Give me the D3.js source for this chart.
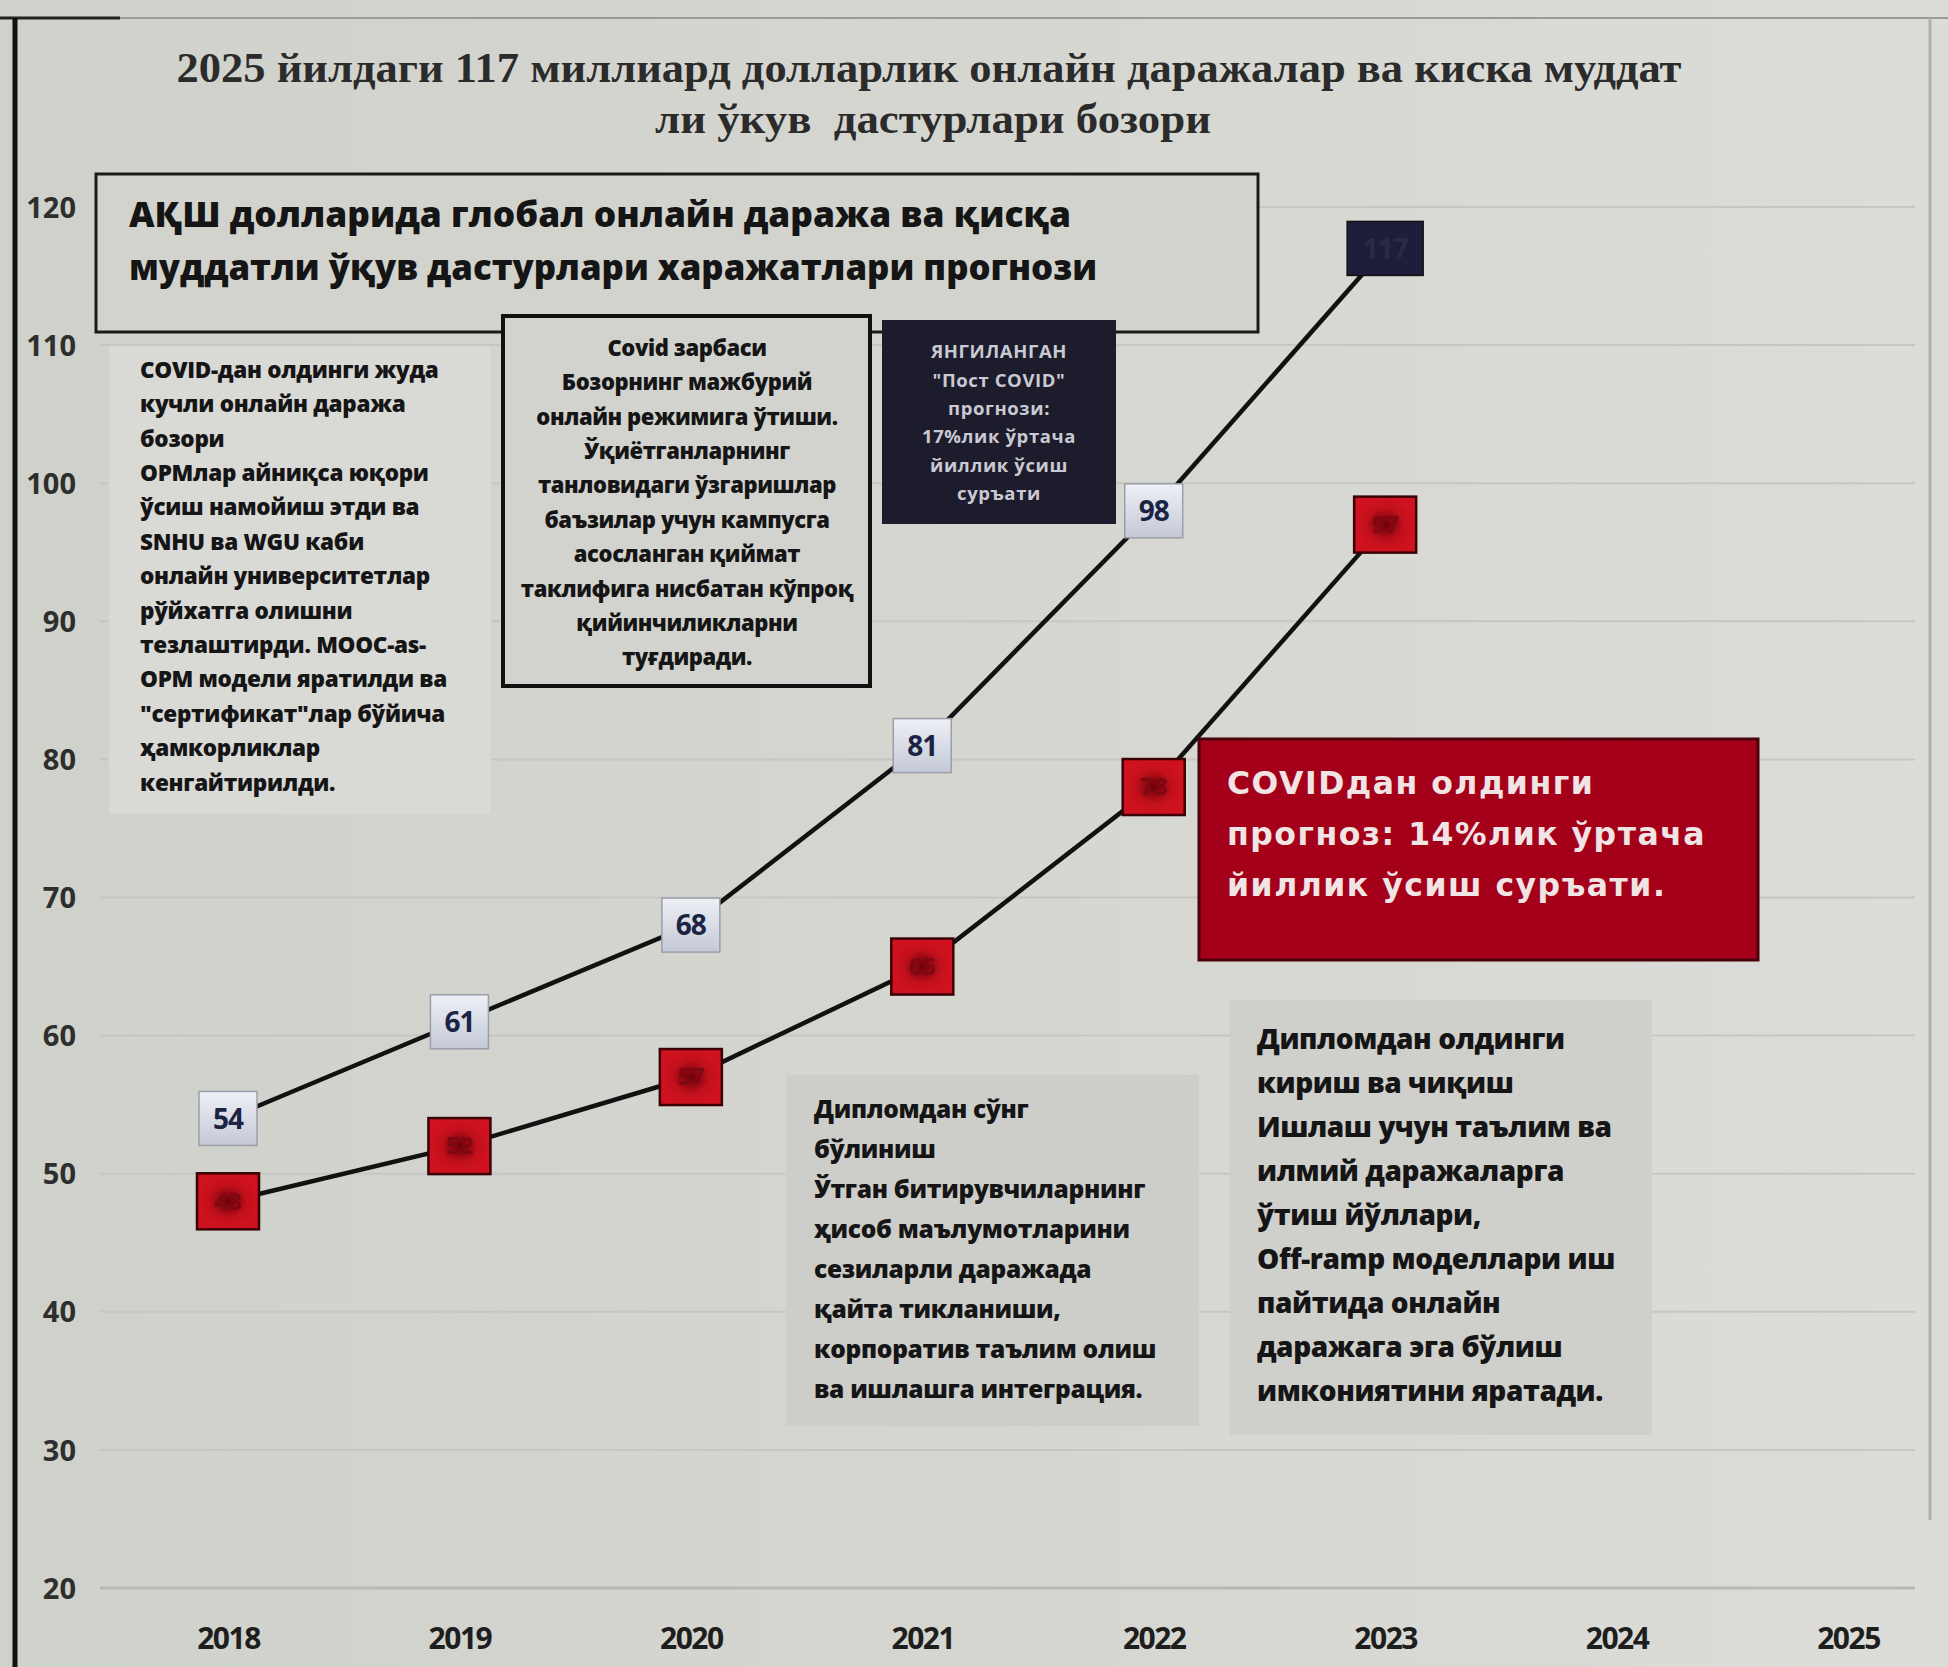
<!DOCTYPE html>
<html><head><meta charset="utf-8">
<script src="https://cdn.jsdelivr.net/npm/d3@7"></script>
<style>html,body{margin:0;padding:0;background:#d4d4cf;}svg{display:block;}</style>
</head><body>
<svg id="chart" width="1948" height="1667"></svg>
<script>
// ---------- DATA ----------
const years = ["2018","2019","2020","2021","2022","2023","2024","2025"];
const postCovidYears = ["2018","2019","2020","2021","2022","2023"];
const postCovidValues = [54, 61, 68, 81, 98, 117];
const preCovidYears = ["2018","2019","2020","2021","2022","2023"];
const preCovidValues = [48, 52, 57, 65, 78, 97];
const yTicks = [20, 30, 40, 50, 60, 70, 80, 90, 100, 110, 120];

const titleLines = ["2025 йилдаги 117 миллиард долларлик онлайн даражалар ва киска муддат", "ли ўкув  дастурлари бозори"];
const subtitleLines = ["АҚШ долларида глобал онлайн даража ва қисқа", "муддатли ўқув дастурлари харажатлари прогнози"];
const noteBeforeCovid = ["COVID-дан олдинги жуда", "кучли онлайн даража", "бозори", "ОРМлар айниқса юқори", "ўсиш намойиш этди ва", "SNHU ва WGU каби", "онлайн университетлар", "рўйхатга олишни", "тезлаштирди. МООС-as-", "ОРМ модели яратилди ва", "\"сертификат\"лар бўйича", "ҳамкорликлар", "кенгайтирилди."];
const noteShock = ["Covid зарбаси", "Бозорнинг мажбурий", "онлайн режимига ўтиши.", "Ўқиётганларнинг", "танловидаги ўзгаришлар", "баъзилар учун кампусга", "асосланган қиймат", "таклифига нисбатан кўпроқ", "қийинчиликларни", "туғдиради."];
const noteUpdated = ["ЯНГИЛАНГАН", "\"Пост COVID\"", "прогнози:", "17%лик ўртача", "йиллик ўсиш", "суръати"];
const notePreForecast = ["COVIDдан олдинги", "прогноз: 14%лик ўртача", "йиллик ўсиш суръати."];
const noteAfterDiploma = ["Дипломдан сўнг", "бўлиниш", "Ўтган битирувчиларнинг", "ҳисоб маълумотларини", "сезиларли даражада", "қайта тикланиши,", "корпоратив таълим олиш", "ва ишлашга интеграция."];
const noteBeforeDiploma = ["Дипломдан олдинги", "кириш ва чиқиш", "Ишлаш учун таълим ва", "илмий даражаларга", "ўтиш йўллари,", "Off-ramp моделлари иш", "пайтида онлайн", "даражага эга бўлиш", "имкониятини яратади."];

// ---------- SETUP ----------
const svg = d3.select("#chart");
const W = 1948, H = 1667;
const defs = svg.append("defs");
const bg = defs.append("linearGradient").attr("id","bg").attr("x1","0").attr("x2","1").attr("y1","0").attr("y2","0");
bg.append("stop").attr("offset","0").attr("stop-color","#cfd1cb");
bg.append("stop").attr("offset","0.5").attr("stop-color","#d6d6d1");
bg.append("stop").attr("offset","1").attr("stop-color","#dcdcd8");
const lb = defs.append("linearGradient").attr("id","lbox").attr("x1","0").attr("x2","0").attr("y1","0").attr("y2","1");
lb.append("stop").attr("offset","0").attr("stop-color","#eef0f6");
lb.append("stop").attr("offset","1").attr("stop-color","#c4c9d6");
const rb = defs.append("radialGradient").attr("id","rbox");
rb.append("stop").attr("offset","0").attr("stop-color","#6a0008");
rb.append("stop").attr("offset","0.6").attr("stop-color","#c3101c");
rb.append("stop").attr("offset","1").attr("stop-color","#d0121f");

svg.append("rect").attr("width",W).attr("height",H).attr("fill","url(#bg)");
// frame
svg.append("line").attr("x1",0).attr("x2",W).attr("y1",18).attr("y2",18).attr("stroke","#9a9a96").attr("stroke-width",2);
svg.append("line").attr("x1",0).attr("x2",120).attr("y1",18).attr("y2",18).attr("stroke","#222").attr("stroke-width",3);
svg.append("line").attr("x1",1930).attr("x2",1930).attr("y1",18).attr("y2",1520).attr("stroke","#b0b0ac").attr("stroke-width",3);
svg.append("line").attr("x1",15).attr("x2",15).attr("y1",18).attr("y2",H).attr("stroke","#111").attr("stroke-width",5);

const x = d3.scalePoint().domain(years).range([228, 1848]);
const y = d3.scaleLinear().domain([20, 120]).range([1588, 207]);

// gridlines
svg.append("g").selectAll("line").data(yTicks).join("line")
  .attr("x1",100).attr("x2",1915).attr("y1",d=>y(d)).attr("y2",d=>y(d))
  .attr("stroke",d=>d===20?"#b8b8b4":"#c6c6c2").attr("stroke-width",d=>d===20?3:2);

// y axis
const yAxis = d3.axisLeft(y).tickValues(yTicks).tickSize(0).tickPadding(0);
const gy = svg.append("g").attr("transform","translate(76,0)").call(yAxis);
gy.select(".domain").remove();
gy.selectAll("text").attr("font-family","Open Sans").attr("font-weight",700).attr("font-size",29).attr("fill","#2e2e2e").attr("dy","0.35em");

// x axis
const xAxis = d3.axisBottom(x).tickSize(0).tickPadding(0);
const gx = svg.append("g").attr("transform","translate(0,1638)").call(xAxis);
gx.select(".domain").remove();
gx.selectAll("text").attr("font-family","Open Sans").attr("font-weight",700).attr("font-size",30).attr("fill","#1e1e1e").attr("dy","0.35em")
  .style("letter-spacing","-1.5px");

// title
const tg = svg.append("g").attr("font-family","Liberation Serif").attr("font-weight",700).attr("fill","#2b2b2b");
tg.append("text").attr("x",929).attr("y",82).attr("text-anchor","middle").attr("font-size",42)
  .attr("textLength",1505).attr("lengthAdjust","spacingAndGlyphs").text(titleLines[0]);
tg.append("text").attr("x",933).attr("y",133).attr("text-anchor","middle").attr("font-size",42)
  .attr("textLength",556).attr("lengthAdjust","spacingAndGlyphs").attr("xml:space","preserve").text(titleLines[1]);

// subtitle box
svg.append("rect").attr("x",96).attr("y",174).attr("width",1162).attr("height",158)
  .attr("fill","#d3d3ce").attr("stroke","#1a1a1a").attr("stroke-width",3);
const st = svg.append("g").attr("font-family","Open Sans").attr("font-weight",800).attr("fill","#151515").attr("font-size",36);
st.append("text").attr("x",129).attr("y",227).attr("textLength",942).attr("lengthAdjust","spacingAndGlyphs").text(subtitleLines[0]);
st.append("text").attr("x",129).attr("y",280).attr("textLength",968).attr("lengthAdjust","spacingAndGlyphs").text(subtitleLines[1]);

// helper for text blocks
function block(lines, opt){
  const g = svg.append("g").attr("font-family",opt.font||"Open Sans").attr("font-weight",opt.weight||800)
    .attr("font-size",opt.size).attr("fill",opt.color||"#151515");
  g.selectAll("text").data(lines).join("text")
    .attr("x",opt.x).attr("y",(d,i)=>opt.y + i*opt.lh).attr("dy","0.35em")
    .attr("text-anchor",opt.anchor||"start")
    .style("letter-spacing",opt.ls||"normal")
    .text(d=>d);
  return g;
}

// left note
svg.append("rect").attr("x",109).attr("y",346).attr("width",382).attr("height",468).attr("fill","#d9d9d5");
block(noteBeforeCovid,{x:140,y:370,lh:34.4,size:22.5,ls:"-0.3px"});

// covid shock box
svg.append("rect").attr("x",503).attr("y",316).attr("width",367).attr("height",370)
  .attr("fill","#d2d2ce").attr("stroke","#111").attr("stroke-width",4);
block(noteShock,{x:687,y:348,lh:34.4,size:22,anchor:"middle",ls:"-0.4px"});

// navy updated box
svg.append("rect").attr("x",882).attr("y",320).attr("width",234).attr("height",204).attr("fill","#1d1c2c");
block(noteUpdated,{x:999,y:352,lh:28.3,size:18.5,anchor:"middle",color:"#c9c9d3",weight:700,ls:"0.6px"});

// after-diploma note
svg.append("rect").attr("x",786).attr("y",1075).attr("width",413).attr("height",351).attr("fill","#cdcdc9");
block(noteAfterDiploma,{x:814,y:1109,lh:40,size:24.5,ls:"-0.3px"});

// before-diploma note
svg.append("rect").attr("x",1230).attr("y",1000).attr("width",422).attr("height",435).attr("fill","#cfcfcc");
block(noteBeforeDiploma,{x:1257,y:1039,lh:44,size:28,ls:"-0.4px"});

// lines
const line = d3.line().x(d=>x(d.year)).y(d=>y(d.value));
const post = postCovidYears.map((yr,i)=>({year:yr,value:postCovidValues[i]}));
const pre = preCovidYears.map((yr,i)=>({year:yr,value:preCovidValues[i]}));
svg.append("path").datum(pre).attr("d",line).attr("fill","none").attr("stroke","#111").attr("stroke-width",4.5);
svg.append("path").datum(post).attr("d",line).attr("fill","none").attr("stroke","#111").attr("stroke-width",4.5);

// pre-covid forecast red box
svg.append("rect").attr("x",1199).attr("y",739).attr("width",559).attr("height",221)
  .attr("fill","#a5001a").attr("stroke","#4a0008").attr("stroke-width",3);
block(notePreForecast,{x:1227,y:783,lh:51,size:31.5,font:"DejaVu Sans",weight:700,color:"#f1e4e4",ls:"1.5px"});

// pre-covid markers
const rm = svg.append("g").selectAll("g").data(pre).join("g")
  .attr("transform",d=>`translate(${x(d.year)},${y(d.value)})`);
rm.append("rect").attr("x",-31).attr("y",-28).attr("width",62).attr("height",56)
  .attr("fill","url(#rbox)").attr("stroke","#3a0006").attr("stroke-width",2.5);
rm.append("text").attr("text-anchor","middle").attr("dy","0.35em").attr("font-family","Open Sans").attr("font-weight",700)
  .attr("font-size",24).attr("fill","#7d0812").text(d=>d.value);

// post-covid markers
const pm = svg.append("g").selectAll("g").data(post).join("g")
  .attr("transform",d=>`translate(${x(d.year)},${y(d.value)})`);
pm.append("rect").attr("x",d=>d.value===117?-38:-29).attr("y",-27).attr("width",d=>d.value===117?76:58).attr("height",54)
  .attr("fill",d=>d.value===117?"#1e1d3a":"url(#lbox)").attr("stroke",d=>d.value===117?"#111":"#9a9ea8").attr("stroke-width",1.5);
pm.append("text").attr("text-anchor","middle").attr("dy","0.36em").attr("font-family","Open Sans").attr("font-weight",700)
  .attr("font-size",28).attr("fill",d=>d.value===117?"#2a2948":"#1b2444").style("letter-spacing","-1px").text(d=>d.value);
</script>
</body></html>
